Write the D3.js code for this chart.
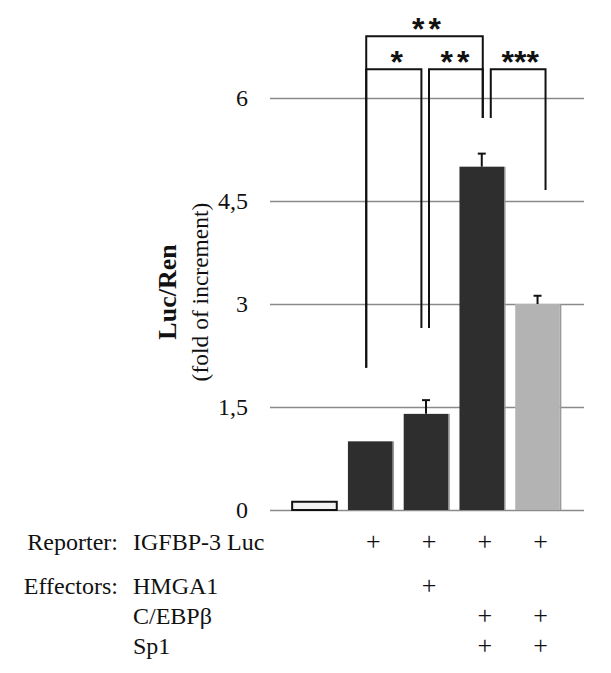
<!DOCTYPE html>
<html lang="en">
<head>
    <meta charset="utf-8">
    <script src="https://d3js.org/d3.v7.min.js"></script>
    <style>
        body { margin: 0; background: #fff; }
        text { font-family: "Liberation Serif", "Times New Roman", serif; fill: #111; }
    </style>
</head>
<body>
<script>
    // data
    const groups = ["ctrl", "luc", "hmga1", "cebp_sp1", "cebp_sp1_b"];
    const values = [0.12, 1.0, 1.4, 5.0, 3.0];
    const errors = [0, 0, 0.2, 0.19, 0.12];
    const colors = ["#f2f2f2", "#2e2e2e", "#2e2e2e", "#2e2e2e", "#b3b3b3"];
    const yTicks = [0, 1.5, 3, 4.5, 6];
    const tickLabels = ["0", "1,5", "3", "4,5", "6"];

    // significance brackets: from bar, to bar, side offsets (px), leg ends and level (data units)
    const brackets = [
        {from: 1, to: 3, dx1: -4, dx2: 1, y1: 2.07, y2: 5.71, level: 6.9, label: "**", ls: 4, sx: 2},
        {from: 1, to: 2, dx1: -4, dx2: -4.6, y1: 2.07, y2: 2.65, level: 6.42, label: "*", ls: 0, sx: 3},
        {from: 2, to: 3, dx1: 3, dx2: 1, y1: 2.65, y2: 5.71, level: 6.42, label: "**", ls: 4, sx: -1},
        {from: 3, to: 4, dx1: 9, dx2: 8, y1: 5.71, y2: 4.66, level: 6.42, label: "***", ls: 0, sx: 2}
    ];

    // table under the chart
    const rows = [
        {head: "Reporter:", name: "IGFBP-3 Luc", marks: [0, 1, 1, 1, 1]},
        {head: "Effectors:", name: "HMGA1", marks: [0, 0, 1, 0, 0]},
        {head: "", name: "C/EBP\u03b2", marks: [0, 0, 0, 1, 1]},
        {head: "", name: "Sp1", marks: [0, 0, 0, 1, 1]}
    ];
    const rowBase = [550, 594, 624, 654];

    const W = 611, H = 673;
    const svg = d3.select("body").append("svg")
        .attr("width", W)
        .attr("height", H);

    const x = d3.scaleBand()
        .domain(d3.range(groups.length))
        .range([281, 571])
        .padding(0.2);

    const y = d3.scaleLinear()
        .domain([0, 6])
        .range([510, 98]);

    // gridlines + tick labels
    const yAxis = svg.append("g")
        .attr("transform", "translate(270,0)")
        .call(d3.axisLeft(y).tickValues(yTicks).tickSize(-314)
            .tickFormat((d, i) => tickLabels[i]).tickPadding(22));
    yAxis.select(".domain").remove();
    yAxis.selectAll(".tick line").attr("stroke", "#8a8a8a").attr("stroke-width", 1.5);
    yAxis.selectAll(".tick text")
        .attr("font-family", "Liberation Serif, serif")
        .attr("font-size", 24)
        .attr("fill", "#111");

    // axis title
    const title = svg.append("g").attr("transform", "translate(0,292) rotate(-90)");
    title.append("text")
        .attr("x", 0).attr("y", 176)
        .attr("text-anchor", "middle")
        .attr("font-size", 26)
        .attr("font-weight", "bold")
        .text("Luc/Ren");
    title.append("text")
        .attr("x", 0).attr("y", 208)
        .attr("text-anchor", "middle")
        .attr("font-size", 23.5)
        .text("(fold of increment)");

    // bar shadows
    svg.selectAll(".shadow")
        .data(values.slice(1))
        .join("rect")
        .attr("class", "shadow")
        .attr("x", (d, i) => x(i + 1) + x.bandwidth())
        .attr("width", 1.5)
        .attr("y", d => y(d))
        .attr("height", d => y(0) - y(d))
        .attr("fill", "#9a9a9a");

    // bars
    svg.selectAll(".bar")
        .data(values)
        .join("rect")
        .attr("class", "bar")
        .attr("x", (d, i) => x(i))
        .attr("width", x.bandwidth())
        .attr("y", d => y(d))
        .attr("height", d => y(0) - y(d))
        .attr("fill", (d, i) => colors[i])
        .attr("stroke", (d, i) => i === 0 ? "#111" : "none")
        .attr("stroke-width", 2);

    // error bars (upper only)
    const err = svg.append("g").attr("stroke", "#111").attr("stroke-width", 2);
    values.forEach((v, i) => {
        if (!errors[i]) return;
        const cx = x(i) + x.bandwidth() / 2;
        err.append("line").attr("x1", cx).attr("x2", cx)
            .attr("y1", y(v)).attr("y2", y(v + errors[i]));
        err.append("line").attr("x1", cx - 4).attr("x2", cx + 4)
            .attr("y1", y(v + errors[i])).attr("y2", y(v + errors[i]));
    });

    // significance brackets
    const br = svg.append("g");
    brackets.forEach(b => {
        const xa = x(b.from) + x.bandwidth() / 2 + b.dx1;
        const xb = x(b.to) + x.bandwidth() / 2 + b.dx2;
        br.append("path")
            .attr("d", `M${xa},${y(b.y1)} V${y(b.level)} H${xb} V${y(b.y2)}`)
            .attr("fill", "none")
            .attr("stroke", "#111")
            .attr("stroke-width", 2);
        br.append("text")
            .attr("x", (xa + xb) / 2 + b.ls / 2 + b.sx)
            .attr("y", y(b.level) + 4)
            .attr("text-anchor", "middle")
            .attr("font-weight", "bold")
            .attr("font-size", 32)
            .attr("letter-spacing", b.ls)
            .style("font-family", "Liberation Sans, Arial, sans-serif")
            .text(b.label);
    });

    // table
    const tbl = svg.append("g").attr("font-size", 24);
    rows.forEach((r, k) => {
        if (r.head) {
            tbl.append("text").attr("x", 118).attr("y", rowBase[k])
                .attr("text-anchor", "end").text(r.head);
        }
        tbl.append("text").attr("x", 133).attr("y", rowBase[k]).text(r.name);
        r.marks.forEach((m, i) => {
            if (!m) return;
            tbl.append("text")
                .attr("x", x(i) + x.bandwidth() / 2 + 3)
                .attr("y", rowBase[k])
                .attr("text-anchor", "middle")
                .attr("font-size", 26)
                .text("+");
        });
    });
</script>
</body>
</html>
